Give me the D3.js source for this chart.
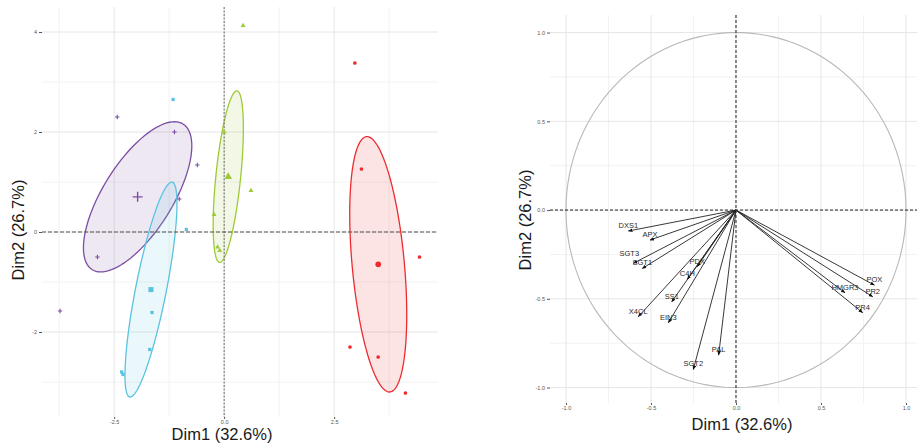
<!DOCTYPE html>
<html><head><meta charset="utf-8">
<script src="https://cdn.jsdelivr.net/npm/d3@7"></script>
<style>body{margin:0;background:#fff}svg{display:block;font-family:"Liberation Sans",Arial,sans-serif}</style>
</head><body>
<svg id="c" width="917" height="444"></svg>
<script>
// ---- Individuals (left panel) ----
const groupNames = ["purple", "cyan", "green", "red"];
const groupColors = ["#7b4ea3", "#5ac3df", "#9dcb36", "#ee2b2f"];
const groupShapes = ["plus", "square", "triangle", "circle"];
const purpleX = [-2.43, -1.13, -0.61, -1.02, -2.88, -3.73];
const purpleY = [2.30, 2.00, 1.34, 0.66, -0.50, -1.58];
const cyanX = [-1.16, -0.86, -1.64, -1.69, -2.30, -2.33];
const cyanY = [2.65, 0.05, -1.61, -2.35, -2.85, -2.80];
const greenX = [0.43, 0.00, 0.61, -0.23, -0.15, -0.10];
const greenY = [4.13, 2.00, 0.83, 0.35, -0.30, -0.37];
const redX = [2.97, 3.12, 4.44, 2.86, 3.50, 4.12];
const redY = [3.38, 1.26, -0.50, -2.30, -2.50, -3.22];
const indXTicks = [-2.5, 0, 2.5];
const indXTickLabels = ["-2.5", "0.0", "2.5"];
const indXMinor = [-3.75, -1.25, 1.25, 3.75];
const indYTicks = [-2, 0, 2, 4];
const indYTickLabels = ["-2", "0", "2", "4"];
const indYMinor = [-3, -1, 1, 3];
const ellipseChi2 = 5.991; // qchisq(0.95, 2)

// ---- Variables (right panel) ----
const varNames = ["DXS1", "APX", "SGT3", "SGT1", "PDX", "C4H", "SS1", "X4CL", "EIN3", "SGT2", "PAL", "POX", "PR2", "HMGR3", "PR4"];
const varDim1 = [-0.633, -0.506, -0.604, -0.551, -0.228, -0.286, -0.378, -0.575, -0.398, -0.251, -0.102, 0.814, 0.804, 0.641, 0.745];
const varDim2 = [-0.118, -0.169, -0.300, -0.329, -0.319, -0.390, -0.517, -0.601, -0.635, -0.898, -0.817, -0.423, -0.488, -0.466, -0.578];
const varTicks = [-1, -0.5, 0, 0.5, 1];
const varTickLabels = ["-1.0", "-0.5", "0.0", "0.5", "1.0"];
const varMinor = [-0.75, -0.25, 0.25, 0.75];
const axisTitleX = "Dim1 (32.6%)";
const axisTitleY = "Dim2 (26.7%)";

const svg = d3.select("#c");
const gridMajor = "#e6e6e6", gridMinor = "#f2f2f2";

function panelGrid(g, x, y, xT, xM, yT, yM) {
  const [x0, x1] = x.range(), [y1, y0] = y.range();
  g.selectAll(".vm").data(xM).join("line").attr("x1", d => x(d)).attr("x2", d => x(d)).attr("y1", y0).attr("y2", y1).attr("stroke", gridMinor);
  g.selectAll(".hm").data(yM).join("line").attr("y1", d => y(d)).attr("y2", d => y(d)).attr("x1", x0).attr("x2", x1).attr("stroke", gridMinor);
  g.selectAll(".vM").data(xT).join("line").attr("x1", d => x(d)).attr("x2", d => x(d)).attr("y1", y0).attr("y2", y1).attr("stroke", gridMajor);
  g.selectAll(".hM").data(yT).join("line").attr("y1", d => y(d)).attr("y2", d => y(d)).attr("x1", x0).attr("x2", x1).attr("stroke", gridMajor);
}
function panelAxes(g, x, y, xT, xL, yT, yL) {
  const [x0] = x.range(), [y1] = y.range();
  const ax = d3.axisBottom(x).tickValues(xT).tickFormat((d, i) => xL[i]).tickSize(2).tickPadding(1);
  const ay = d3.axisLeft(y).tickValues(yT).tickFormat((d, i) => yL[i]).tickSize(3).tickPadding(2);
  const gx = g.append("g").attr("transform", `translate(0,${y1})`).call(ax);
  const gy = g.append("g").attr("transform", `translate(${x0},0)`).call(ay);
  [gx, gy].forEach(a => {
    a.select(".domain").remove();
    a.selectAll("text").attr("fill", "#555").attr("font-size", 5.5);
    a.selectAll("line").attr("stroke", "#555");
  });
}
function titles(g, cx, by, lx, cy) {
  g.append("text").attr("x", cx).attr("y", by).attr("text-anchor", "middle").attr("font-size", 16.5).attr("fill", "#1a1a1a").text(axisTitleX);
  g.append("text").attr("transform", `translate(${lx},${cy}) rotate(-90)`).attr("text-anchor", "middle").attr("font-size", 16.5).attr("fill", "#1a1a1a").text(axisTitleY);
}

// ===== Left panel =====
const xL = d3.scaleLinear().domain([-4.14, 4.86]).range([42, 438]);
const yL = d3.scaleLinear().domain([-3.7, 4.5]).range([417, 7]);
const gL = svg.append("g");
panelGrid(gL, xL, yL, indXTicks, indXMinor, indYTicks, indYMinor);
panelAxes(gL, xL, yL, indXTicks, indXTickLabels, indYTicks, indYTickLabels);

const groups = [[purpleX, purpleY], [cyanX, cyanY], [greenX, greenY], [redX, redY]].map(([xs, ys], i) => ({
  name: groupNames[i], color: groupColors[i], shape: groupShapes[i],
  pts: xs.map((v, j) => [v, ys[j]])
}));

// confidence ellipses around the group means
groups.forEach(gr => {
  const n = gr.pts.length;
  const mx = d3.mean(gr.pts, p => p[0]), my = d3.mean(gr.pts, p => p[1]);
  let sxx = 0, syy = 0, sxy = 0;
  gr.pts.forEach(p => { sxx += (p[0] - mx) ** 2; syy += (p[1] - my) ** 2; sxy += (p[0] - mx) * (p[1] - my); });
  sxx /= (n - 1); syy /= (n - 1); sxy /= (n - 1);
  const a = sxx / n * ellipseChi2, b = sxy / n * ellipseChi2, c = syy / n * ellipseChi2;
  const l11 = Math.sqrt(a), l21 = b / l11, l22 = Math.sqrt(c - l21 * l21);
  const ring = d3.range(0, 101).map(k => {
    const t = 2 * Math.PI * k / 100, u = Math.cos(t), v = Math.sin(t);
    return [xL(mx + l11 * u), yL(my + l21 * u + l22 * v)];
  });
  gr.mean = [mx, my];
  gL.append("path").attr("d", d3.line()(ring) + "Z").attr("fill", gr.color).attr("fill-opacity", 0.13)
    .attr("stroke", gr.color).attr("stroke-width", 1.3);
});

// zero lines
gL.append("line").attr("x1", xL(0)).attr("x2", xL(0)).attr("y1", yL.range()[1]).attr("y2", yL.range()[0])
  .attr("stroke", "#777").attr("stroke-width", 1.1).attr("stroke-dasharray", "2,1.5");
gL.append("line").attr("y1", yL(0)).attr("y2", yL(0)).attr("x1", xL.range()[0]).attr("x2", xL.range()[1])
  .attr("stroke", "#555").attr("stroke-width", 1.1).attr("stroke-dasharray", "4,2");

function drawMarker(g, shape, color, cx, cy, s) {
  if (shape === "plus") {
    g.append("path").attr("d", `M${cx - s},${cy}H${cx + s}M${cx},${cy - s}V${cy + s}`).attr("stroke", color).attr("stroke-width", s > 3 ? 1.4 : 1.1);
  } else {
    const sym = { square: d3.symbolSquare, triangle: d3.symbolTriangle, circle: d3.symbolCircle }[shape];
    g.append("path").attr("transform", `translate(${cx},${cy})`).attr("d", d3.symbol(sym, s * s * 2.2)()).attr("fill", color);
  }
}
groups.forEach(gr => {
  gr.pts.forEach(p => drawMarker(gL, gr.shape, gr.color, xL(p[0]), yL(p[1]), 2.2));
  drawMarker(gL, gr.shape, gr.color, xL(gr.mean[0]), yL(gr.mean[1]), gr.shape === "plus" ? 5 : 3.4);
});
titles(gL, 222, 440, 24, 230);

// ===== Right panel =====
const xR = d3.scaleLinear().domain([-1.094, 1.1]).range([550, 923]);
const yR = d3.scaleLinear().domain([-1.087, 1.099]).range([403, 15]);
const gR = svg.append("g");
panelGrid(gR, xR, yR, varTicks, varMinor, varTicks, varMinor);
panelAxes(gR, xR, yR, varTicks, varTickLabels, varTicks, varTickLabels);

const circ = d3.range(0, 201).map(k => { const t = 2 * Math.PI * k / 200; return [xR(Math.cos(t)), yR(Math.sin(t))]; });
gR.append("path").attr("d", d3.line()(circ)).attr("fill", "none").attr("stroke", "#b8b8b8").attr("stroke-width", 1.1);

gR.append("line").attr("x1", xR(0)).attr("x2", xR(0)).attr("y1", yR.range()[1]).attr("y2", yR.range()[0])
  .attr("stroke", "#222").attr("stroke-dasharray", "3,2");
gR.append("line").attr("y1", yR(0)).attr("y2", yR(0)).attr("x1", xR.range()[0]).attr("x2", 917)
  .attr("stroke", "#222").attr("stroke-dasharray", "3,2");

svg.append("defs").append("marker").attr("id", "ah").attr("viewBox", "0 0 10 10").attr("refX", 9).attr("refY", 5)
  .attr("markerWidth", 5).attr("markerHeight", 5).attr("orient", "auto")
  .append("path").attr("d", "M0,1L10,5L0,9Z").attr("fill", "#111");

varNames.forEach((nm, i) => {
  gR.append("line").attr("x1", xR(0)).attr("y1", yR(0)).attr("x2", xR(varDim1[i])).attr("y2", yR(varDim2[i]))
    .attr("stroke", "#222").attr("stroke-width", 0.9).attr("marker-end", "url(#ah)");
});
// small nudges so the crowded labels stay readable
const labelNudge = { SGT3: [-4, -4] };
varNames.forEach((nm, i) => {
  const nd = labelNudge[nm] || [0, 0];
  gR.append("text").attr("x", xR(varDim1[i]) + nd[0]).attr("y", yR(varDim2[i]) - 3 + nd[1]).attr("text-anchor", "middle")
    .attr("font-size", 7.5).attr("fill", "#2a2a2a").text(nm);
});
titles(gR, 742, 430, 531, 220);
</script>
</body></html>
